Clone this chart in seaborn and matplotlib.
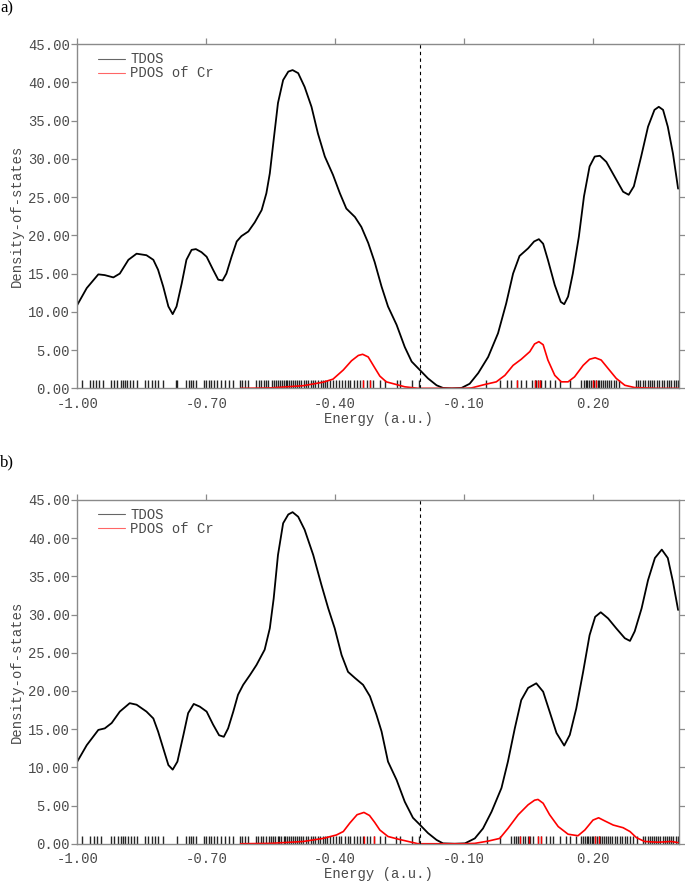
import matplotlib
matplotlib.use("Agg")
import matplotlib.pyplot as plt
from matplotlib.ticker import FormatStrFormatter
import seaborn as sns

# ── Data ──────────────────────────────────────────────────────
# panel a) total DOS
tdos_a_e = [-1.000, -0.978, -0.951, -0.936, -0.916, -0.901, -0.881, -0.862, -0.839, -0.823,
            -0.812, -0.800, -0.788, -0.778, -0.769, -0.757, -0.746, -0.734, -0.724, -0.711,
            -0.699, -0.684, -0.672, -0.662, -0.653, -0.641, -0.629, -0.618, -0.602, -0.587,
            -0.571, -0.560, -0.552, -0.543, -0.533, -0.521, -0.509, -0.499, -0.486, -0.471,
            -0.455, -0.440, -0.424, -0.405, -0.389, -0.374, -0.354, -0.339, -0.323, -0.308,
            -0.292, -0.277, -0.257, -0.238, -0.222, -0.203, -0.184, -0.164, -0.149, -0.129,
            -0.106, -0.087, -0.067, -0.044, -0.021, -0.002, 0.014, 0.029, 0.049, 0.063,
            0.074, 0.084, 0.095, 0.111, 0.125, 0.133, 0.142, 0.153, 0.167, 0.179,
            0.192, 0.204, 0.216, 0.231, 0.250, 0.270, 0.283, 0.295, 0.312, 0.328,
            0.343, 0.353, 0.363, 0.374, 0.386, 0.398]
tdos_a = [10.9, 13.1, 14.9, 14.8, 14.5, 15.0, 16.8, 17.6, 17.4, 16.8,
          15.5, 13.3, 10.7, 9.7, 10.7, 13.7, 16.8, 18.1, 18.2, 17.8,
          17.2, 15.5, 14.2, 14.1, 15.0, 17.2, 19.2, 19.9, 20.5, 21.7,
          23.3, 25.5, 28.1, 32.5, 37.3, 40.3, 41.4, 41.6, 41.2, 39.4,
          36.8, 33.3, 30.3, 27.9, 25.5, 23.5, 22.4, 21.1, 19.0, 16.5,
          13.3, 10.7, 8.3, 5.4, 3.5, 2.4, 1.3, 0.4, 0.05, 0.0,
          0.05, 0.6, 2.0, 4.1, 7.2, 11.1, 15.0, 17.3, 18.3, 19.2,
          19.5, 18.9, 16.8, 13.5, 11.3, 11.0, 12.0, 15.0, 19.8, 25.1,
          29.0, 30.3, 30.4, 29.6, 27.7, 25.7, 25.3, 26.4, 30.3, 34.2,
          36.4, 36.8, 36.4, 34.2, 30.7, 26.1]

# panel a) PDOS of Cr
pdos_a_e = [-0.620, -0.550, -0.474, -0.428, -0.405, -0.381, -0.362, -0.346, -0.336, -0.323,
            -0.308, -0.296, -0.281, -0.261, -0.238, -0.207, -0.150, -0.100, -0.083, -0.052,
            -0.025, -0.005, 0.014, 0.033, 0.053, 0.064, 0.074, 0.084, 0.095, 0.111,
            0.126, 0.142, 0.157, 0.177, 0.192, 0.205, 0.219, 0.235, 0.254, 0.274,
            0.297, 0.350, 0.400]
pdos_a = [0.0, 0.05, 0.35, 0.8, 1.2, 2.4, 3.6, 4.3, 4.45, 4.1,
          2.7, 1.6, 0.85, 0.55, 0.2, 0.0, 0.0, 0.0, 0.05, 0.5,
          0.85, 1.7, 3.0, 3.8, 4.8, 5.8, 6.1, 5.7, 3.7, 1.7,
          0.85, 0.85, 1.5, 3.0, 3.8, 4.0, 3.7, 2.6, 1.3, 0.4,
          0.1, 0.0, 0.0]

# panel b) total DOS
tdos_b_e = [-1.000, -0.978, -0.951, -0.936, -0.920, -0.901, -0.878, -0.862, -0.839, -0.823,
            -0.812, -0.800, -0.788, -0.778, -0.767, -0.753, -0.742, -0.729, -0.715, -0.699,
            -0.684, -0.670, -0.659, -0.649, -0.637, -0.626, -0.614, -0.598, -0.583, -0.564,
            -0.552, -0.543, -0.533, -0.521, -0.509, -0.499, -0.486, -0.471, -0.451, -0.432,
            -0.416, -0.401, -0.385, -0.370, -0.354, -0.335, -0.319, -0.304, -0.292, -0.277,
            -0.257, -0.238, -0.219, -0.203, -0.184, -0.164, -0.149, -0.122, -0.098, -0.075,
            -0.056, -0.036, -0.013, 0.002, 0.018, 0.033, 0.049, 0.068, 0.084, 0.099,
            0.115, 0.133, 0.146, 0.161, 0.177, 0.192, 0.205, 0.218, 0.235, 0.254,
            0.274, 0.286, 0.297, 0.313, 0.328, 0.344, 0.360, 0.374, 0.386, 0.398]
tdos_b = [10.75, 12.9, 14.9, 15.1, 15.8, 17.3, 18.4, 18.2, 17.3, 16.4,
          14.7, 12.5, 10.3, 9.7, 10.75, 14.25, 17.1, 18.3, 17.95, 17.3,
          15.6, 14.2, 14.0, 15.1, 17.3, 19.5, 20.8, 22.1, 23.4, 25.4,
          28.2, 32.1, 37.8, 41.95, 43.1, 43.4, 42.8, 41.1, 37.8, 33.9,
          30.8, 28.2, 24.7, 22.5, 21.7, 20.8, 19.3, 16.9, 14.7, 10.75,
          8.35, 5.5, 3.4, 2.5, 1.4, 0.5, 0.05, 0.0, 0.05, 0.7,
          2.0, 4.2, 7.3, 10.75, 15.1, 18.8, 20.4, 21.0, 19.9, 17.3,
          14.5, 12.85, 14.25, 17.7, 22.5, 27.3, 29.7, 30.3, 29.5, 28.2,
          26.9, 26.55, 27.8, 30.8, 34.5, 37.4, 38.5, 37.4, 34.3, 30.6]

# panel b) PDOS of Cr
pdos_b_e = [-0.620, -0.550, -0.474, -0.428, -0.397, -0.381, -0.366, -0.349, -0.333, -0.320,
            -0.308, -0.296, -0.277, -0.253, -0.230, -0.207, -0.150, -0.100, -0.075, -0.044,
            -0.017, 0.002, 0.026, 0.049, 0.064, 0.072, 0.084, 0.099, 0.119, 0.142,
            0.165, 0.181, 0.200, 0.213, 0.227, 0.247, 0.270, 0.286, 0.301, 0.320,
            0.351, 0.382, 0.398]
pdos_b = [0.0, 0.05, 0.3, 0.7, 1.15, 1.6, 2.7, 3.8, 4.1, 3.7,
          2.8, 1.8, 0.95, 0.6, 0.3, 0.0, 0.0, 0.0, 0.05, 0.35,
          0.7, 2.0, 3.8, 5.1, 5.7, 5.8, 5.3, 3.8, 2.25, 1.25,
          1.05, 1.8, 3.1, 3.4, 3.0, 2.45, 2.1, 1.6, 0.8, 0.3,
          0.2, 0.3, 0.15]

# orbital energies (rug ticks)
levels_a = [-0.990, -0.970, -0.964, -0.957, -0.950, -0.941, -0.922, -0.915, -0.907, -0.899,
            -0.894, -0.889, -0.884, -0.877, -0.871, -0.862, -0.843, -0.835, -0.827, -0.819,
            -0.812, -0.800, -0.770, -0.767, -0.746, -0.741, -0.736, -0.730, -0.724, -0.705,
            -0.701, -0.694, -0.688, -0.682, -0.676, -0.666, -0.657, -0.647, -0.637, -0.622,
            -0.616, -0.610, -0.602, -0.583, -0.578, -0.572, -0.566, -0.561, -0.556, -0.548,
            -0.543, -0.538, -0.533, -0.529, -0.524, -0.520, -0.515, -0.511, -0.507, -0.502,
            -0.498, -0.494, -0.489, -0.484, -0.479, -0.473, -0.468, -0.462, -0.456, -0.451,
            -0.446, -0.440, -0.434, -0.428, -0.423, -0.418, -0.412, -0.404, -0.397, -0.391,
            -0.385, -0.376, -0.369, -0.365, -0.356, -0.349, -0.342, -0.336, -0.327, -0.319,
            -0.311, -0.296, -0.284, -0.257, -0.250, -0.222, -0.205,
            -0.048, -0.017, -0.001, 0.010, 0.022, 0.033, 0.045, 0.057, 0.064, 0.068,
            0.072, 0.076, 0.080, 0.088, 0.099, 0.111, 0.123, 0.146, 0.173, 0.178,
            0.183, 0.187, 0.191, 0.195, 0.199, 0.203, 0.207, 0.211, 0.215, 0.219,
            0.223, 0.227, 0.232, 0.237, 0.242, 0.248, 0.254, 0.260, 0.300, 0.305,
            0.310, 0.316, 0.322, 0.327, 0.333, 0.338, 0.343, 0.349, 0.354, 0.360,
            0.366, 0.371, 0.377, 0.382, 0.388, 0.393, 0.398]
levels_cr_a = [-0.336, -0.318, 0.022, 0.064, 0.072, 0.076, 0.199, 0.207]

levels_b = [-0.990, -0.970, -0.962, -0.955, -0.945, -0.922, -0.914, -0.905, -0.899, -0.894,
            -0.888, -0.882, -0.876, -0.869, -0.862, -0.843, -0.835, -0.827, -0.819, -0.812,
            -0.800, -0.768, -0.746, -0.741, -0.736, -0.730, -0.723, -0.705, -0.700, -0.694,
            -0.688, -0.682, -0.676, -0.666, -0.657, -0.647, -0.637, -0.622, -0.616, -0.610,
            -0.602, -0.585, -0.579, -0.573, -0.567, -0.561, -0.555, -0.549, -0.544, -0.539,
            -0.534, -0.530, -0.525, -0.520, -0.516, -0.511, -0.507, -0.503, -0.498, -0.494,
            -0.489, -0.484, -0.479, -0.474, -0.468, -0.463, -0.457, -0.451, -0.446, -0.440,
            -0.435, -0.429, -0.423, -0.418, -0.412, -0.405, -0.399, -0.392, -0.386, -0.378,
            -0.371, -0.366, -0.357, -0.350, -0.343, -0.335, -0.327, -0.318, -0.310, -0.296,
            -0.285, -0.258, -0.250, -0.222, -0.205,
            -0.046, -0.017, 0.010, 0.015, 0.020, 0.026, 0.031, 0.037, 0.042, 0.048,
            0.053, 0.061, 0.072, 0.080, 0.091, 0.099, 0.107, 0.123, 0.138, 0.146,
            0.161, 0.173, 0.177, 0.181, 0.185, 0.189, 0.193, 0.197, 0.201, 0.205,
            0.209, 0.213, 0.217, 0.221, 0.225, 0.230, 0.235, 0.240, 0.245, 0.250,
            0.256, 0.262, 0.268, 0.274, 0.280, 0.285, 0.294, 0.302, 0.317, 0.322,
            0.327, 0.332, 0.337, 0.342, 0.347, 0.352, 0.357, 0.362, 0.367, 0.372,
            0.377, 0.382, 0.387, 0.392, 0.397]
levels_cr_b = [-0.333, -0.310, 0.030, 0.050, 0.072, 0.080, 0.205, 0.215]

homo = -0.203
xticks = [-1.00, -0.70, -0.40, -0.10, 0.20]
yticks = [0, 5, 10, 15, 20, 25, 30, 35, 40, 45]

# ── Style ─────────────────────────────────────────────────────
sns.set_style("white")
plt.rcParams["font.family"] = ["Liberation Mono", "DejaVu Sans Mono"]
GREY = "#8a8a8a"
TXT = "#4a4a4a"

fig = plt.figure(figsize=(6.85, 8.85), dpi=100)

panels = [
    ("a)", [0.1128, 0.5612, 0.8784, 0.3890], tdos_a_e, tdos_a, pdos_a_e, pdos_a,
     levels_a, levels_cr_a, 0.990),
    ("b)", [0.1128, 0.0466, 0.8784, 0.3885], tdos_b_e, tdos_b, pdos_b_e, pdos_b,
     levels_b, levels_cr_b, 0.478),
]

for tag, rect, te, tv, pe, pv, lev, lev_cr, tag_y in panels:
    ax = fig.add_axes(rect)

    sns.rugplot(x=lev, height=0.024, color="black", lw=0.7, alpha=0.85, ax=ax)
    sns.rugplot(x=lev_cr, height=0.024, color="red", lw=0.7, ax=ax)
    sns.lineplot(x=te, y=tv, color="black", lw=1.3, ax=ax, label="TDOS",
                 solid_joinstyle="round")
    sns.lineplot(x=pe, y=pv, color="red", lw=1.2, ax=ax, label="PDOS of Cr",
                 solid_joinstyle="round")
    ax.axvline(homo, color="black", ls=(0, (3, 3)), lw=0.8)

    ax.set_xlim(-1.0, 0.40)
    ax.set_ylim(0, 45)
    ax.set_xticks(xticks)
    ax.set_yticks(yticks)
    ax.xaxis.set_major_formatter(FormatStrFormatter("%.2f"))
    ax.yaxis.set_major_formatter(FormatStrFormatter("%.2f"))

    for sp in ax.spines.values():
        sp.set_visible(True)
        sp.set_color(GREY)
        sp.set_linewidth(1.0)

    ax.tick_params(axis="y", which="both", left=True, right=True, direction="out",
                   length=4, width=0.9, color=GREY, labelsize=10, labelcolor=TXT, pad=1.5)
    ax.tick_params(axis="x", which="both", bottom=False, top=True, direction="out",
                   length=4, width=0.9, color=GREY, labelsize=10, labelcolor=TXT, pad=2)

    ax.set_xlabel("Energy (a.u.)", fontsize=10, color=TXT, labelpad=1)
    ax.set_ylabel("Density-of-states", fontsize=10, color=TXT, labelpad=3)

    leg = ax.legend(loc="upper left", frameon=False, fontsize=10, handlelength=2.0,
                    handletextpad=0.35, labelspacing=0.0, borderaxespad=0.2,
                    bbox_to_anchor=(0.02, 1.0))
    for h in leg.get_lines():
        h.set_linewidth(0.8)
        h.set_alpha(0.6)
    for t in leg.get_texts():
        t.set_color(TXT)

    fig.text(0.0, tag_y, tag, fontsize=12, family="Liberation Serif",
             ha="left", va="center", color="black")

fig.savefig("out.png", dpi=100)
